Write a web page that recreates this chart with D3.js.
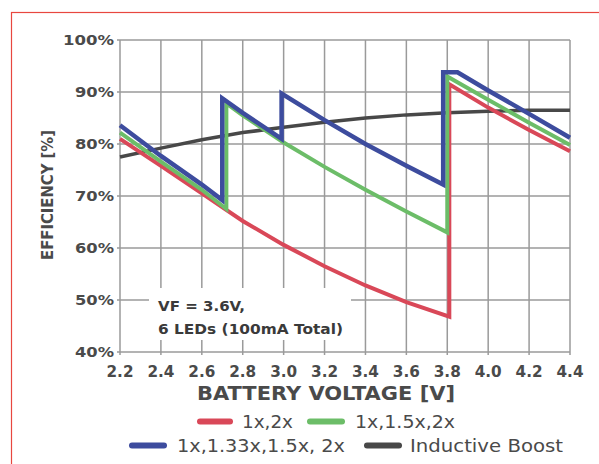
<!DOCTYPE html>
<html>
<head>
<meta charset="utf-8">
<script src="https://cdn.jsdelivr.net/npm/d3@7"></script>
<style>
  html, body { margin: 0; padding: 0; background: #fff; }
  svg { display: block; }
</style>
</head>
<body>
<svg id="chart" width="599" height="464"></svg>
<script>
// ---- data ----
const xTicks = [2.2, 2.4, 2.6, 2.8, 3.0, 3.2, 3.4, 3.6, 3.8, 4.0, 4.2, 4.4];
const yTicks = [40, 50, 60, 70, 80, 90, 100];

const redV   = [2.2, 2.4, 2.6, 2.8, 3.0, 3.2, 3.4, 3.6, 3.81, 3.81, 4.0, 4.2, 4.4];
const redE   = [81.0, 75.8, 70.5, 65.2, 60.6, 56.5, 52.8, 49.6, 46.8, 91.5, 87.0, 82.7, 78.6];

const greenV = [2.2, 2.4, 2.6, 2.72, 2.72, 2.8, 3.0, 3.2, 3.4, 3.6, 3.8, 3.8, 4.0, 4.2, 4.4];
const greenE = [82.2, 76.6, 71.2, 67.5, 87.8, 85.5, 80.3, 75.6, 71.2, 67.0, 63.0, 93.0, 88.5, 84.1, 79.8];

const blueV  = [2.2, 2.4, 2.6, 2.7, 2.7, 2.8, 2.99, 2.99, 3.2, 3.4, 3.6, 3.78, 3.78, 3.85, 4.0, 4.2, 4.4];
const blueE  = [83.6, 77.7, 72.2, 69.2, 88.8, 86.0, 81.0, 89.7, 84.6, 80.0, 75.8, 72.2, 93.8, 93.8, 90.3, 85.8, 81.2];

const grayV  = [2.2, 2.4, 2.6, 2.8, 3.0, 3.2, 3.4, 3.6, 3.8, 4.0, 4.2, 4.4];
const grayE  = [77.5, 79.2, 80.8, 82.2, 83.2, 84.2, 85.0, 85.6, 86.0, 86.3, 86.5, 86.5];

const seriesNames = ["1x,2x", "1x,1.5x,2x", "1x,1.33x,1.5x, 2x", "Inductive Boost"];
const seriesColors = ["#d94858", "#6cbd68", "#3d4c9e", "#484848"];
const annotation = ["VF = 3.6V,", "6 LEDs (100mA Total)"];

// ---- chart ----
const svg = d3.select("#chart");
const x = d3.scaleLinear().domain([2.2, 4.4]).range([120, 570]);
const y = d3.scaleLinear().domain([40, 100]).range([352, 40]);

function fit(sel, w) {
  sel.attr("textLength", w).attr("lengthAdjust", "spacingAndGlyphs");
}

// red border
svg.append("rect").attr("x", 11.5).attr("y", 12.5).attr("width", 620).attr("height", 480)
  .attr("fill", "none").attr("stroke", "#e8473f").attr("stroke-width", 1.2);

const grid = svg.append("g").attr("stroke", "#9a9a9a").attr("stroke-width", 1.5);
grid.selectAll("line.v").data(xTicks).join("line")
  .attr("x1", d => x(d)).attr("x2", d => x(d)).attr("y1", y(100)).attr("y2", y(40) + 3);
grid.selectAll("line.h").data(yTicks).join("line")
  .attr("y1", d => y(d)).attr("y2", d => y(d)).attr("x1", x(2.2) - 3).attr("x2", x(4.4));

// annotation white box
svg.append("rect").attr("x", 149).attr("y", 288).attr("width", 202).attr("height", 52).attr("fill", "#fff");

// axis tick labels
const yl = svg.append("g").attr("font-family", "DejaVu Sans").attr("font-weight", "bold")
  .attr("font-size", 14).attr("fill", "#4a4a4a").attr("text-anchor", "end");
yl.selectAll("text").data(yTicks).join("text")
  .attr("x", 114).attr("y", d => y(d) + 5).text(d => d + "%")
  .each(function(d) { fit(d3.select(this), d === 100 ? 51 : 39); });

const xl = svg.append("g").attr("font-family", "DejaVu Sans").attr("font-weight", "bold")
  .attr("font-size", 16).attr("fill", "#4a4a4a").attr("text-anchor", "middle");
xl.selectAll("text").data(xTicks).join("text")
  .attr("x", d => x(d)).attr("y", 377).text(d => d.toFixed(1))
  .each(function() { fit(d3.select(this), 27); });

// axis titles
svg.append("text").attr("x", 326).attr("y", 400).attr("text-anchor", "middle")
  .attr("font-family", "DejaVu Sans").attr("font-weight", "bold").attr("font-size", 20)
  .attr("fill", "#4a4a4a").text("BATTERY VOLTAGE [V]").call(fit, 258);
svg.append("text").attr("transform", "translate(53,195) rotate(-90)").attr("text-anchor", "middle")
  .attr("font-family", "DejaVu Sans").attr("font-weight", "bold").attr("font-size", 16)
  .attr("fill", "#4a4a4a").text("EFFICIENCY [%]").call(fit, 130);

// annotation text
const ann = svg.append("g").attr("font-family", "DejaVu Sans").attr("font-weight", "bold")
  .attr("font-size", 14).attr("fill", "#3a3a3a");
ann.append("text").attr("x", 158).attr("y", 311).text(annotation[0]).call(fit, 87);
ann.append("text").attr("x", 158).attr("y", 334).text(annotation[1]).call(fit, 185);

// lines
const line = d3.line().x(d => x(d[0])).y(d => y(d[1]));
const zip = (a, b) => a.map((v, i) => [v, b[i]]);
const series = [
  { data: zip(grayV, grayE), color: seriesColors[3], w: 3.5 },
  { data: zip(redV, redE), color: seriesColors[0], w: 4 },
  { data: zip(greenV, greenE), color: seriesColors[1], w: 4 },
  { data: zip(blueV, blueE), color: seriesColors[2], w: 4.5 }
];
svg.append("g").selectAll("path").data(series).join("path")
  .attr("d", d => line(d.data)).attr("fill", "none")
  .attr("stroke", d => d.color).attr("stroke-width", d => d.w)
  .attr("stroke-linejoin", "miter").attr("stroke-miterlimit", 3);

// legend
const legendItems = [
  { name: seriesNames[0], color: seriesColors[0], sx: 197, sw: 36, tx: 242, tw: 51, y: 421.5 },
  { name: seriesNames[1], color: seriesColors[1], sx: 307, sw: 38, tx: 355, tw: 100, y: 421.5 },
  { name: seriesNames[2], color: seriesColors[2], sx: 129, sw: 38, tx: 177, tw: 168, y: 445.5 },
  { name: seriesNames[3], color: seriesColors[3], sx: 364, sw: 38, tx: 410, tw: 153, y: 445.5 }
];
const lg = svg.append("g");
lg.selectAll("line").data(legendItems).join("line")
  .attr("x1", d => d.sx + 3).attr("x2", d => d.sx + d.sw - 3)
  .attr("y1", d => d.y).attr("y2", d => d.y)
  .attr("stroke", d => d.color).attr("stroke-width", 6).attr("stroke-linecap", "round");
lg.selectAll("text").data(legendItems).join("text")
  .attr("x", d => d.tx).attr("y", d => d.y + 6.5)
  .attr("font-family", "DejaVu Sans").attr("font-size", 18).attr("fill", "#4a4a4a")
  .text(d => d.name)
  .each(function(d) { fit(d3.select(this), d.tw); });
</script>
</body>
</html>
